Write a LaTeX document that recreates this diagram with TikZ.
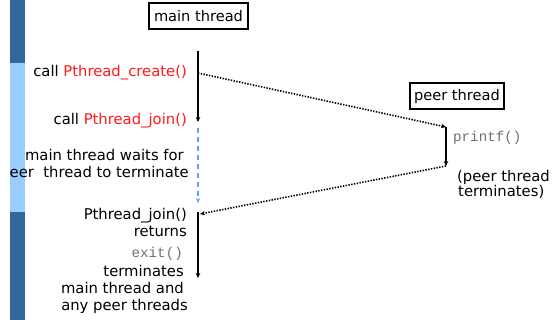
\documentclass[tikz,border=0pt]{standalone}
\usepackage{fontspec}
\setmainfont{DejaVu Sans}
\newfontfamily\codefont{Liberation Mono}
\usetikzlibrary{arrows.meta}
\definecolor{bardark}{HTML}{336699}
\definecolor{barlight}{HTML}{99CCFF}
\definecolor{waitblue}{HTML}{6699FF}
\definecolor{codegray}{HTML}{707070}
\definecolor{callred}{HTML}{FF1A1A}
\tikzset{
  lbl/.style={inner sep=0pt, font=\fontsize{14.8}{17}\selectfont},
  codelbl/.style={inner sep=0pt, text=codegray, font=\codefont\fontsize{14.2}{17}\selectfont},
  threadbox/.style={draw, line width=1.2pt, inner sep=0pt, minimum height=26pt, font=\fontsize{14.6}{17}\selectfont},
  tip/.style={-{Stealth[length=5pt,width=4.5pt]}},
  run/.style={tip, line width=1.4pt},
  wait/.style={tip, waitblue, line width=1.6pt, dash pattern=on 5pt off 4pt},
  hop/.style={tip, line width=1.6pt, dash pattern=on 1.4pt off 1.4pt},
}
\begin{document}
\begin{tikzpicture}[x=1pt,y=-1pt]
\useasboundingbox (0,0) rectangle (558,320);
% side bar
\fill[bardark] (10,0) rectangle (25,63);
\fill[barlight] (10,63) rectangle (25,212);
\fill[bardark] (10,212) rectangle (25,320);

% thread headers
\node[threadbox, minimum width=99pt] (mainbox) at (198.5,16) {main thread};
\node[threadbox, minimum width=94pt] (peerbox) at (457,96) {peer thread};

% main thread timeline points
\coordinate (m0) at (198,51);
\coordinate (mc) at (198,73);
\coordinate (m1) at (198,122);
\coordinate (w0) at (198,128);
\coordinate (w1) at (198,203);
\coordinate (r0) at (198,212);
\coordinate (r1) at (198,278);
\coordinate (rj) at (200,214);
% peer thread timeline points
\coordinate (p0) at (446,127);
\coordinate (p1) at (446,166);

\draw[run] (m0) -- (m1);
\draw[wait] (w0) -- (w1);
\draw[run] (r0) -- (r1);
\draw[run] (p0) -- (p1);
\draw[hop] (mc) -- (p0);
\draw[hop] (p1) -- (rj);

% main thread labels
\node[lbl, anchor=base east] (create) at (187,77) {call \textcolor{callred}{Pthread\_create()}};
\node[lbl, anchor=base east] (join) at (187,125) {call \textcolor{callred}{Pthread\_join()}};
\node[lbl, anchor=base east] (wait1) at (184,161) {main thread waits for};
\node[lbl, anchor=base east] (wait2) at (189,178) {eer\ \ thread to terminate};
\node[lbl, anchor=base east] (ret1) at (187,220) {Pthread\_join()};
\node[lbl, anchor=base east] (ret2) at (187,237) {returns};
\node[codelbl, anchor=base east] (exitcall) at (183,258) {exit()};
\node[lbl, anchor=base east] (term1) at (184,277) {terminates};
\node[lbl, anchor=base east] (term2) at (184,294) {main thread and};
\node[lbl, anchor=base east] (term3) at (188,311) {any peer threads};

% peer thread labels
\node[codelbl, anchor=base west] (printf) at (453,142) {printf()};
\node[lbl, anchor=base west] (pt1) at (457,182) {(peer thread};
\node[lbl, anchor=base west] (pt2) at (458,197) {terminates)};
\end{tikzpicture}
\end{document}
